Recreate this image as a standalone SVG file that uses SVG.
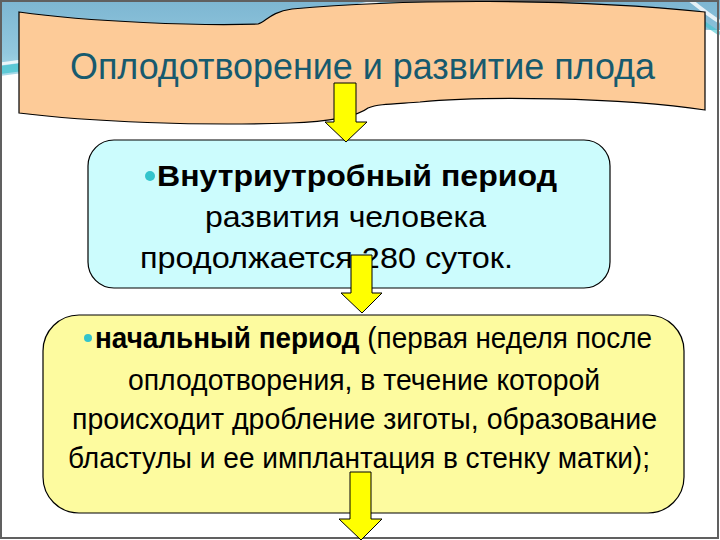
<svg xmlns="http://www.w3.org/2000/svg" width="720" height="540" viewBox="0 0 720 540">
<defs>
<linearGradient id="sky" x1="0" y1="0" x2="0" y2="1">
<stop offset="0" stop-color="#7db6d2"/>
<stop offset="0.7" stop-color="#92c8de"/>
<stop offset="1" stop-color="#a9dbe9"/>
</linearGradient>
<style>
.t{font-family:"Liberation Sans",Arial,sans-serif;fill:#000}
.title{font-family:"Liberation Sans",Arial,sans-serif;font-size:36px;fill:#175a6e}
.arrow{fill:#ffff00;stroke:#000;stroke-width:1}
.box{stroke:#000;stroke-width:1.2}
.b{font-weight:bold}
</style>
</defs>
<rect x="0" y="0" width="720" height="540" fill="#ffffff"/>
<path d="M0,0 H720 V30 C 600,28 300,36 0,76 Z" fill="url(#sky)"/>
<path d="M0,70 C 150,50 300,30 420,0" fill="none" stroke="#3fc3cf" stroke-width="8" opacity="0.7"/>
<path d="M0,64 C 150,44 290,22 400,-4" fill="none" stroke="#ffffff" stroke-width="3" opacity="0.8"/>
<path d="M690,0 C 700,8 710,16 720,22" fill="none" stroke="#ffffff" stroke-width="4" opacity="0.8"/>
<path d="M700,20 C 708,26 714,30 720,34" fill="none" stroke="#3fc3cf" stroke-width="4" opacity="0.6"/>
<rect x="1" y="1" width="717" height="537" fill="none" stroke="#606060" stroke-width="2"/>
<g id="banner">
<path class="box" fill="#fdcb98" d="M19,12 C 90,22 200,26 258,24 C 266,22 270,12 292,9 C 400,-1 570,-2 705,12 L705,110 C 620,97 480,96 420,102 C 392,104 378,104 368,108 C 358,116 330,122 290,123 C 200,126 90,122 19,113 Z"/>
<text class="title" x="70" y="79" textLength="585" lengthAdjust="spacingAndGlyphs">Оплодотворение и развитие плода</text>
</g>
<g id="box1">
<rect class="box" x="88" y="140" width="522" height="148" rx="26" ry="26" fill="#ccfcfd"/>
<circle cx="150" cy="176" r="5" fill="#33c4cc"/>
<text class="t b" x="157" y="186" font-size="30" textLength="400" lengthAdjust="spacingAndGlyphs">Внутриутробный период</text>
<text class="t" x="205" y="227" font-size="30" textLength="281" lengthAdjust="spacingAndGlyphs">развития человека</text>
<text class="t" x="140" y="268" font-size="30" textLength="373" lengthAdjust="spacingAndGlyphs">продолжается 280 суток.</text>
</g>
<g id="box2">
<rect class="box" x="43" y="315" width="641" height="198" rx="36" ry="36" fill="#fdfb9f"/>
<circle cx="88" cy="338" r="4" fill="#33c4cc"/>
<text class="t" x="95" y="348" font-size="30" textLength="557" lengthAdjust="spacingAndGlyphs"><tspan class="b">начальный период</tspan> (первая неделя после</text>
<text class="t" x="128" y="390" font-size="30" textLength="472" lengthAdjust="spacingAndGlyphs">оплодотворения, в течение которой</text>
<text class="t" x="72" y="429" font-size="30" textLength="585" lengthAdjust="spacingAndGlyphs">происходит дробление зиготы, образование</text>
<text class="t" x="68" y="468" font-size="30" textLength="582" lengthAdjust="spacingAndGlyphs">бластулы и ее имплантация в стенку матки);</text>
</g>
<g id="connectors">
<polygon class="arrow" points="334,83 356,83 356,122 367,122 346,142 325,122 334,122"/>
<polygon class="arrow" points="351,255 372,255 372,293 382,293 362,313 341,293 351,293"/>
<polygon class="arrow" points="350,472 371,472 371,519 382,519 361,540 339,519 350,519"/>
</g>
</svg>
